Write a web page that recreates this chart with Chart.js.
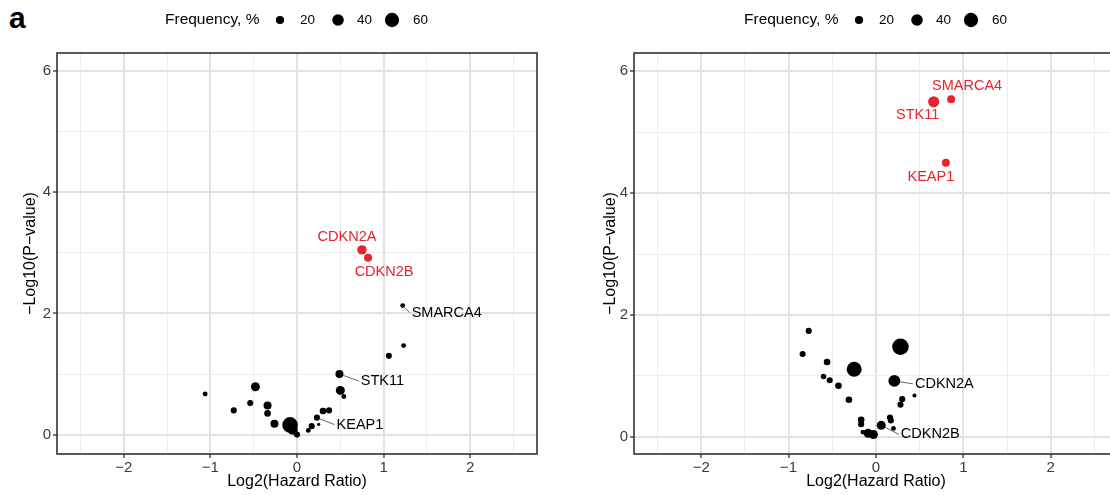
<!DOCTYPE html>
<html>
<head>
<meta charset="utf-8">
<script src="https://cdn.jsdelivr.net/npm/chart.js@4.4.0/dist/chart.umd.min.js"></script>
<style>
  html, body { margin: 0; padding: 0; background: #fff; overflow: hidden; }
  body { width: 1110px; height: 495px; position: relative; }
  .panel { position: absolute; top: 0; width: 560px; height: 495px; }
  #tag { position: absolute; left: 9px; top: 1px; line-height: 30px; font: bold 30px "Liberation Sans", Arial, sans-serif; color: #000; }
</style>
</head>
<body>
<div id="tag">a</div>
<div class="panel" style="left:0px"><canvas id="leftChart" width="560" height="495"></canvas></div>
<div class="panel" style="left:580px"><canvas id="rightChart" width="560" height="495"></canvas></div>
<script>
"use strict";

// axis ticks
var xTicksMajor = [-2, -1, 0, 1, 2];
var xTicksMinor = [-2.5, -1.5, -0.5, 0.5, 1.5, 2.5];
var yTicksMajor = [0, 2, 4, 6];
var yTicksMinor = [1, 3, 5];
var legendFreq = [20, 40, 60];

// left panel - all genes
var leftX    = [-1.06, -0.73, -0.54, -0.48, -0.34, -0.34, -0.26, -0.08, -0.05, 0.00, 0.13, 0.17, 0.23, 0.25, 0.30, 0.37, 0.49, 0.50, 0.54, 1.06, 1.23, 1.22];
var leftY    = [0.67, 0.40, 0.52, 0.79, 0.48, 0.35, 0.18, 0.16, 0.08, 0.00, 0.07, 0.14, 0.28, 0.17, 0.39, 0.40, 1.00, 0.73, 0.63, 1.30, 1.47, 2.13];
var leftFreq = [7, 11, 11, 24, 19, 13, 19, 72, 30, 11, 7, 11, 11, 3, 13, 11, 19, 24, 7, 11, 7, 7];
var leftGene = [null, null, null, null, null, null, null, null, null, null, null, null, 'KEAP1', null, null, null, 'STK11', null, null, null, null, 'SMARCA4'];

// left panel - significant
var leftSigX    = [0.75, 0.82];
var leftSigY    = [3.05, 2.92];
var leftSigFreq = [26, 19];
var leftSigGene = ['CDKN2A', 'CDKN2B'];

// right panel - all genes
var rightX    = [-0.77, -0.84, -0.56, -0.25, 0.28, -0.60, -0.53, -0.43, 0.21, -0.31, 0.30, 0.28, 0.44, -0.17, -0.17, 0.16, 0.17, 0.06, 0.20, -0.15, -0.09, -0.03];
var rightY    = [1.74, 1.36, 1.23, 1.11, 1.48, 0.99, 0.93, 0.84, 0.92, 0.61, 0.62, 0.53, 0.68, 0.28, 0.21, 0.32, 0.27, 0.19, 0.14, 0.08, 0.06, 0.04];
var rightFreq = [11, 11, 13, 66, 81, 9, 11, 13, 42, 13, 11, 11, 5, 13, 11, 11, 11, 24, 7, 7, 24, 24];
var rightGene = [null, null, null, null, null, null, null, null, 'CDKN2A', null, null, null, null, null, null, null, null, 'CDKN2B', null, null, null, null];

// right panel - significant
var rightSigX    = [0.66, 0.86, 0.80];
var rightSigY    = [5.50, 5.54, 4.50];
var rightSigFreq = [36, 19, 19];
var rightSigGene = ['STK11', 'SMARCA4', 'KEAP1'];

// label placement (pixel offsets of text centre from the point)
var leftLabelPos = {
    CDKN2A:  { dx: -15, dy: -13 },
    CDKN2B:  { dx: 16, dy: 14 },
    SMARCA4: { dx: 44, dy: 7, seg: true },
    STK11:   { dx: 43, dy: 7, seg: true },
    KEAP1:   { dx: 43, dy: 7, seg: true }
};
var rightLabelPos = {
    SMARCA4: { dx: 16, dy: -13 },
    STK11:   { dx: -16, dy: 13 },
    KEAP1:   { dx: -15, dy: 14 },
    CDKN2A:  { dx: 50, dy: 3, seg: true },
    CDKN2B:  { dx: 49, dy: 9, seg: true }
};

var RED = '#e5242f';
var FONT = '"Liberation Sans", Arial, Helvetica, sans-serif';

function radius(f) {
    return 0.92 * Math.sqrt(f);
}

function points(xs, ys) {
    return xs.map(function (x, i) { return { x: x, y: ys[i] }; });
}

function fmt(v) {
    return v < 0 ? '\u2212' + Math.abs(v) : String(v);
}

var labelPlugin = {
    id: 'geneLabels',
    afterDatasetsDraw: function (chart) {
        var ctx = chart.ctx;
        var pos = chart.options.plugins.geneLabels.pos;
        var sets = chart.options.plugins.geneLabels.sets;
        ctx.save();
        ctx.font = '14.5px ' + FONT;
        ctx.textBaseline = 'middle';
        ctx.textAlign = 'center';
        sets.forEach(function (s, di) {
            var meta = chart.getDatasetMeta(di);
            s.genes.forEach(function (g, i) {
                if (!g) return;
                var el = meta.data[i];
                var p = pos[g];
                var tx = el.x + p.dx, ty = el.y + p.dy;
                if (p.seg) {
                    var w = ctx.measureText(g).width;
                    var ex = tx - w / 2 - 2, ey = ty;
                    var ang = Math.atan2(ey - el.y, ex - el.x);
                    var r = radius(s.freq[i]);
                    ctx.strokeStyle = '#555';
                    ctx.lineWidth = 0.9;
                    ctx.beginPath();
                    ctx.moveTo(el.x + Math.cos(ang) * r, el.y + Math.sin(ang) * r);
                    ctx.lineTo(ex, ey);
                    ctx.stroke();
                }
                ctx.fillStyle = s.color;
                ctx.fillText(g, tx, ty);
            });
        });
        ctx.restore();
    },
    afterDraw: function (chart) {
        var ctx = chart.ctx;
        var a = chart.chartArea;
        ctx.save();
        // panel border
        ctx.strokeStyle = '#333';
        ctx.lineWidth = 1.6;
        ctx.strokeRect(a.left, a.top, a.right - a.left, a.bottom - a.top);

        // size legend
        var cx = (a.left + a.right) / 2, cy = 20;
        ctx.fillStyle = '#000';
        ctx.textBaseline = 'middle';
        ctx.textAlign = 'left';
        ctx.font = '15.5px ' + FONT;
        ctx.fillText('Frequency, %', cx - 132, cy);
        var dotX = [-17, 41, 95];
        var txtX = [3, 60, 116];
        ctx.font = '13.5px ' + FONT;
        legendFreq.forEach(function (f, i) {
            ctx.beginPath();
            ctx.arc(cx + dotX[i], cy, radius(f), 0, Math.PI * 2);
            ctx.fill();
            ctx.fillText(String(f), cx + txtX[i], cy);
        });
        ctx.restore();
    }
};

function isMajor(list, v) {
    return list.indexOf(v) >= 0;
}

function makeChart(id, opt) {
    var xTicks = xTicksMajor.concat(xTicksMinor);
    var yTicks = yTicksMajor.concat(yTicksMinor);
    return new Chart(document.getElementById(id), {
        type: 'scatter',
        data: {
            datasets: [
                {
                    data: points(opt.x, opt.y),
                    backgroundColor: '#000',
                    pointRadius: opt.freq.map(radius),
                    pointHoverRadius: opt.freq.map(radius),
                    pointBorderWidth: 0
                },
                {
                    data: points(opt.sigX, opt.sigY),
                    backgroundColor: RED,
                    pointRadius: opt.sigFreq.map(radius),
                    pointHoverRadius: opt.sigFreq.map(radius),
                    pointBorderWidth: 0
                }
            ]
        },
        options: {
            responsive: false,
            animation: false,
            devicePixelRatio: 1,
            events: [],
            layout: { padding: { top: 53, right: opt.padRight, bottom: 0, left: 0 } },
            plugins: {
                legend: { display: false },
                tooltip: { enabled: false },
                geneLabels: {
                    pos: opt.labelPos,
                    sets: [
                        { genes: opt.gene, freq: opt.freq, color: '#000' },
                        { genes: opt.sigGene, freq: opt.sigFreq, color: RED }
                    ]
                }
            },
            scales: {
                x: {
                    type: 'linear',
                    min: -2.77,
                    max: 2.77,
                    afterBuildTicks: function (axis) {
                        axis.ticks = xTicks.map(function (v) { return { value: v }; });
                    },
                    afterFit: function (s) { s.height = 41; },
                    border: { display: false },
                    grid: {
                        color: function (c) { return isMajor(xTicksMajor, c.tick.value) ? '#e2e2e2' : '#ededed'; },
                        lineWidth: function (c) { return isMajor(xTicksMajor, c.tick.value) ? 2 : 1; },
                        tickColor: function (c) { return isMajor(xTicksMajor, c.tick.value) ? '#333' : 'rgba(0,0,0,0)'; },
                        tickLength: 4,
                        tickWidth: 1.3
                    },
                    ticks: {
                        autoSkip: false,
                        maxRotation: 0,
                        padding: 1,
                        color: '#3a3a3a',
                        font: { family: FONT, size: 15 },
                        callback: function (v) { return isMajor(xTicksMajor, v) ? fmt(v) : ''; }
                    },
                    title: {
                        display: true,
                        text: 'Log2(Hazard Ratio)',
                        color: '#000',
                        font: { family: FONT, size: 16 },
                        padding: { top: 0, bottom: 4 }
                    }
                },
                y: {
                    type: 'linear',
                    min: opt.yMin,
                    max: opt.yMax,
                    afterBuildTicks: function (axis) {
                        axis.ticks = yTicks.map(function (v) { return { value: v }; });
                    },
                    afterFit: function (s) { s.width = opt.yWidth; },
                    border: { display: false },
                    grid: {
                        color: function (c) { return isMajor(yTicksMajor, c.tick.value) ? '#e2e2e2' : '#ededed'; },
                        lineWidth: function (c) { return isMajor(yTicksMajor, c.tick.value) ? 2 : 1; },
                        tickColor: function (c) { return isMajor(yTicksMajor, c.tick.value) ? '#333' : 'rgba(0,0,0,0)'; },
                        tickLength: 4,
                        tickWidth: 1.3
                    },
                    ticks: {
                        autoSkip: false,
                        padding: 2,
                        color: '#3a3a3a',
                        font: { family: FONT, size: 15 },
                        callback: function (v) { return isMajor(yTicksMajor, v) ? fmt(v) : ''; }
                    },
                    title: {
                        display: true,
                        text: '\u2212Log10(P\u2212value)',
                        color: '#000',
                        font: { family: FONT, size: 16 },
                        padding: { top: 21, bottom: 0 }
                    }
                }
            }
        },
        plugins: [labelPlugin]
    });
}

makeChart('leftChart', {
    x: leftX, y: leftY, freq: leftFreq, gene: leftGene,
    sigX: leftSigX, sigY: leftSigY, sigFreq: leftSigFreq, sigGene: leftSigGene,
    labelPos: leftLabelPos,
    yMin: -0.32, yMax: 6.30, yWidth: 57, padRight: 23
});

makeChart('rightChart', {
    x: rightX, y: rightY, freq: rightFreq, gene: rightGene,
    sigX: rightSigX, sigY: rightSigY, sigFreq: rightSigFreq, sigGene: rightSigGene,
    labelPos: rightLabelPos,
    yMin: -0.28, yMax: 6.30, yWidth: 54, padRight: 22
});
</script>
</body>
</html>
